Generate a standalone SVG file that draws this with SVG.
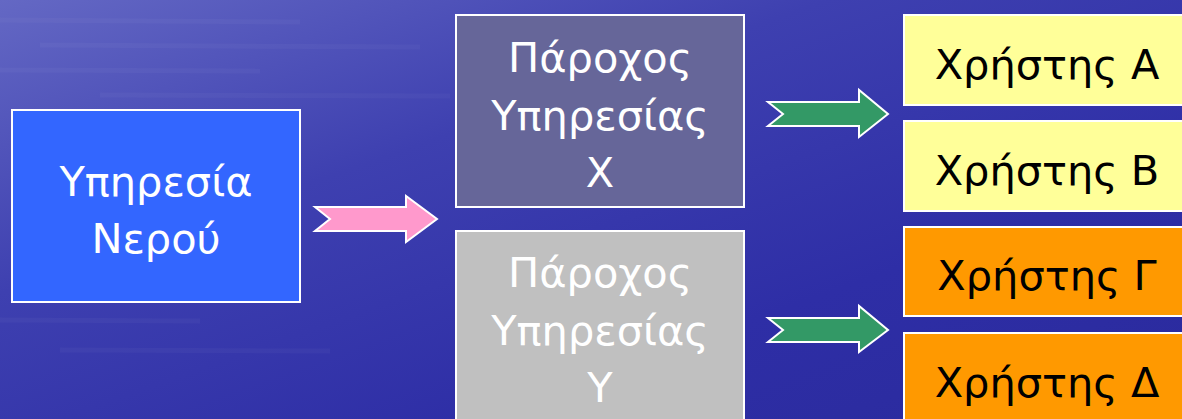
<svg xmlns="http://www.w3.org/2000/svg" width="1182" height="419" viewBox="0 0 1182 419">
  <defs>
    <linearGradient id="bg" x1="0" y1="0" x2="1" y2="1">
      <stop offset="0" stop-color="#6468C4"/>
      <stop offset="0.35" stop-color="#3E40B0"/>
      <stop offset="0.7" stop-color="#2E2EA6"/>
      <stop offset="1" stop-color="#2A2A9C"/>
    </linearGradient>
    <style>
      .box { stroke: #FFFFFF; stroke-width: 2; }
      .arrow { stroke: #FFFFFF; stroke-width: 2; stroke-linejoin: miter; }
      .t { font-family: "DejaVu Sans", "Liberation Sans", sans-serif; font-size: 41.5px; text-anchor: middle; }
      .w { fill: #FFFFFF; }
      .k { fill: #000000; }
      .streak { stroke: #FFFFFF; stroke-opacity: 0.03; stroke-width: 5; }
    </style>
  </defs>
  <rect x="0" y="0" width="1182" height="419" fill="url(#bg)"/>
  <g id="texture">
    <line class="streak" x1="0" y1="20" x2="300" y2="22"/>
    <line class="streak" x1="40" y1="45" x2="420" y2="47"/>
    <line class="streak" x1="0" y1="70" x2="260" y2="71"/>
    <line class="streak" x1="100" y1="95" x2="450" y2="96"/>
    <line class="streak" x1="0" y1="320" x2="200" y2="321"/>
    <line class="streak" x1="60" y1="350" x2="330" y2="351"/>
  </g>

  <g id="node-water">
    <rect class="box" x="12" y="110" width="288" height="192" fill="#3366FF"/>
    <text class="t w" x="156" y="196">Υπηρεσία</text>
    <text class="t w" x="156" y="253">Νερού</text>
  </g>

  <g id="node-provider-x">
    <rect class="box" x="456" y="15" width="288" height="192" fill="#666699"/>
    <text class="t w" x="600" y="72">Πάροχος</text>
    <text class="t w" x="600" y="130">Υπηρεσίας</text>
    <text class="t w" x="600" y="187">Χ</text>
  </g>

  <g id="node-provider-y">
    <rect class="box" x="456" y="231" width="288" height="200" fill="#C0C0C0"/>
    <text class="t w" x="600" y="287">Πάροχος</text>
    <text class="t w" x="600" y="345">Υπηρεσίας</text>
    <text class="t w" x="600" y="402">Υ</text>
  </g>

  <g id="node-user-a">
    <rect class="box" x="904" y="15" width="290" height="90" fill="#FFFF99"/>
    <text class="t k" x="1047" y="79">Χρήστης Α</text>
  </g>
  <g id="node-user-b">
    <rect class="box" x="904" y="121" width="290" height="90" fill="#FFFF99"/>
    <text class="t k" x="1047" y="185">Χρήστης Β</text>
  </g>
  <g id="node-user-c">
    <rect class="box" x="904" y="227" width="290" height="89" fill="#FF9900"/>
    <text class="t k" x="1047" y="290">Χρήστης Γ</text>
  </g>
  <g id="node-user-d">
    <rect class="box" x="904" y="333" width="290" height="100" fill="#FF9900"/>
    <text class="t k" x="1047" y="397">Χρήστης Δ</text>
  </g>

  <g id="connectors">
    <polygon class="arrow" fill="#FF99CC" points="315,207 406,207 406,196 437,219 406,242 406,231 315,231 330,219"/>
    <polygon class="arrow" fill="#339966" points="768,102 859,102 859,90 888,114 859,137 859,126 768,126 783,114"/>
    <polygon class="arrow" fill="#339966" points="768,318 859,318 859,306 888,330 859,352 859,342 768,342 783,330"/>
  </g>
</svg>
